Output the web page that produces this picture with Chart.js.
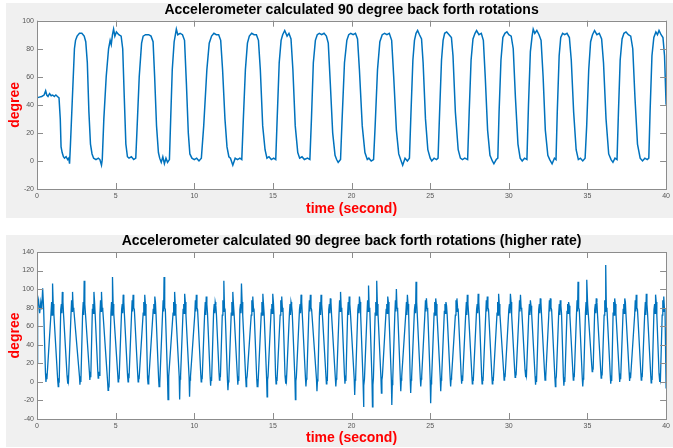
<!DOCTYPE html>
<html>
<head>
<meta charset="utf-8">
<script src="https://cdn.jsdelivr.net/npm/chart.js@4"></script>
<style>
  body { margin: 0; background: #fff; }
  #wrap { position: relative; width: 673px; height: 448px; overflow: hidden; }
  canvas { position: absolute; left: 0; }
</style>
</head>
<body>
<div id="wrap">
  <canvas id="upper" width="673" height="218" style="top:0"></canvas>
  <canvas id="lower" width="673" height="220" style="top:228px"></canvas>
</div>
<script>
const upperTitle = "Accelerometer calculated 90 degree back forth rotations";
const lowerTitle = "Accelerometer calculated 90 degree back forth rotations (higher rate)";
const xLabel = "time (second)";
const yLabel = "degree";

const timeTicks = [0, 5, 10, 15, 20, 25, 30, 35, 40];
const upperDegreeTicks = [-20, 0, 20, 40, 60, 80, 100];
const lowerDegreeTicks = [-40, -20, 0, 20, 40, 60, 80, 100, 120, 140];

// slow rotations (one line per swing)
const upperTime = [
  0, 0.15, 0.3, 0.45, 0.55, 0.62, 0.7, 0.8, 0.9, 1.0, 1.1, 1.2, 1.3, 1.4,
  1.48, 1.53, 1.6, 1.68, 1.75, 1.85, 1.95, 2.02, 2.07,
  2.12, 2.25, 2.38, 2.45, 2.55, 2.7, 2.85, 3.0, 3.1, 3.2, 3.3, 3.4, 3.5, 3.6, 3.75, 3.9, 4.0, 4.1, 4.15,
  4.25, 4.4, 4.55, 4.65, 4.72, 4.8, 4.87, 4.95, 5.05, 5.2, 5.35, 5.45, 5.55, 5.65, 5.75, 5.85, 6.0, 6.15, 6.28,
  6.35, 6.5, 6.65, 6.75, 6.9, 7.1, 7.25, 7.38, 7.48, 7.6, 7.72, 7.8, 7.9, 8.0, 8.1, 8.2, 8.3, 8.42,
  8.5, 8.6, 8.72, 8.8, 8.86, 8.95, 9.1, 9.25, 9.38, 9.5, 9.62, 9.72, 9.85, 10.0, 10.15, 10.3, 10.45,
  10.6, 10.8, 10.95, 11.1, 11.25, 11.4, 11.55, 11.68, 11.8, 11.95, 12.08, 12.2, 12.3, 12.45, 12.6, 12.75, 12.9, 13.02,
  13.12, 13.25, 13.38, 13.5, 13.65, 13.8, 13.95, 14.08, 14.2, 14.35, 14.5, 14.62, 14.75, 14.9, 15.05, 15.18,
  15.27, 15.4, 15.52, 15.62, 15.75, 15.9, 16.02, 16.15, 16.27, 16.42, 16.58, 16.7, 16.85, 17.0, 17.2, 17.35,
  17.45, 17.57, 17.7, 17.82, 17.95, 18.1, 18.25, 18.4, 18.52, 18.65, 18.8, 18.95, 19.05, 19.15, 19.3,
  19.4, 19.55, 19.7, 19.82, 19.95, 20.1, 20.25, 20.38, 20.5, 20.68, 20.85, 21.0, 21.1, 21.25, 21.4,
  21.5, 21.65, 21.8, 21.95, 22.1, 22.25, 22.4, 22.55, 22.68, 22.85, 23.0, 23.12, 23.25, 23.4, 23.55, 23.68,
  23.78, 23.9, 24.0, 24.1, 24.2, 24.32, 24.45, 24.55, 24.7, 24.85, 25.0, 25.1, 25.25, 25.4, 25.5,
  25.6, 25.72, 25.82, 25.92, 26.05, 26.2, 26.35, 26.45, 26.6, 26.78, 26.92, 27.05, 27.2, 27.38,
  27.48, 27.6, 27.72, 27.85, 27.95, 28.1, 28.25, 28.38, 28.5, 28.65, 28.8, 28.95, 29.05, 29.2, 29.3,
  29.38, 29.5, 29.62, 29.75, 29.88, 30.0, 30.15, 30.28, 30.42, 30.58, 30.72, 30.85, 31.0, 31.15,
  31.25, 31.37, 31.48, 31.55, 31.65, 31.78, 31.92, 32.05, 32.18, 32.32, 32.48, 32.6, 32.75, 32.9, 33.0,
  33.08, 33.2, 33.3, 33.42, 33.55, 33.7, 33.85, 33.97, 34.12, 34.28, 34.42, 34.55, 34.7, 34.85,
  34.95, 35.08, 35.2, 35.32, 35.45, 35.6, 35.75, 35.9, 36.02, 36.18, 36.35, 36.5, 36.62, 36.75, 36.88,
  36.97, 37.08, 37.2, 37.32, 37.45, 37.6, 37.75, 37.88, 38.02, 38.18, 38.35, 38.5, 38.65, 38.8, 38.9,
  38.98, 39.1, 39.22, 39.35, 39.45, 39.55, 39.68, 39.8, 39.9, 40.0
];
const upperDegree = [
  45, 45.5, 46, 47, 50, 47, 46, 48, 46.5, 47, 46, 47, 46, 45,
  30, 10, 6, 3, 2, 3, 1, 2, -2,
  10, 45, 80, 86, 89, 91, 91, 89, 85, 70, 35, 12, 5, 2, 1, 2, 1, -3, 1,
  30, 60, 80, 86, 83, 90, 94, 89, 92, 90, 89, 80, 45, 12, 3, 2, 3, 1, 2,
  20, 60, 84, 89, 90, 90, 89, 85, 60, 25, 6, 2, -1, 3, -2, 2, -1, 1,
  30, 65, 85, 90, 94, 90, 91, 90, 86, 55, 20, 5, 2, 1, 2, 0, 2,
  25, 65, 84, 89, 91, 90, 90, 86, 65, 30, 10, 3, 2, -3, 2, 1, 2, 1,
  30, 65, 84, 89, 91, 90, 90, 86, 65, 25, 8, 2, 3, 1, 2, 1,
  30, 70, 86, 90, 93, 89, 91, 87, 65, 25, 6, 2, 3, 1, 2, 1,
  30, 70, 86, 90, 91, 90, 91, 89, 84, 55, 20, 4, 1, -1, 1,
  30, 70, 86, 90, 91, 90, 91, 87, 65, 25, 6, 1, 2, 0, 1,
  25, 65, 85, 90, 91, 90, 91, 86, 60, 22, 5, 1, -3, 2, 0, 2,
  35, 72, 86, 91, 93, 90, 87, 70, 30, 8, 2, 0, 2, 1, 2,
  35, 72, 86, 91, 92, 90, 88, 75, 35, 8, 2, 1, 2, 1,
  35, 72, 87, 91, 93, 90, 91, 86, 60, 22, 4, 0, -2, 1, 2,
  35, 72, 88, 91, 92, 90, 89, 80, 45, 12, 2, 0, 2, 1,
  40, 78, 89, 94, 91, 93, 90, 86, 60, 22, 4, 1, -2, 2, 1,
  35, 75, 88, 91, 90, 91, 88, 72, 35, 8, 1, 2, 0, 2,
  25, 65, 85, 90, 93, 90, 91, 87, 70, 30, 5, 1, -1, 2, 1,
  35, 72, 87, 91, 92, 90, 89, 80, 45, 12, 2, 0, 2, 1, 2,
  35, 75, 88, 92, 90, 93, 90, 88, 75, 40
];

// fast rotations (one line per swing: noisy trough, then noisy top with its spike)
const lowerTime = [
  0, 0.04, 0.1, 0.17, 0.24, 0.3, 0.36, 0.42,
  0.54, 0.57, 0.60, 0.63, 0.89, 0.93, 0.96, 0.99, 1.03, 1.07,
  1.32, 1.35, 1.38, 1.41, 1.51, 1.55, 1.58, 1.61, 1.65, 1.69,
  1.91, 1.94, 1.97, 2.00, 2.16, 2.20, 2.23, 2.26, 2.30, 2.34,
  2.70, 2.73, 2.76, 2.79, 2.90, 2.94, 2.97, 3.00, 3.04, 3.08,
  3.33, 3.36, 3.39, 3.42, 3.52, 3.56, 3.59, 3.62, 3.66, 3.70,
  3.86, 3.89, 3.92, 3.95, 4.00, 4.04, 4.07, 4.10, 4.14, 4.18,
  4.49, 4.52, 4.55, 4.58, 4.70, 4.74, 4.77, 4.80, 4.84, 4.88,
  5.13, 5.16, 5.19, 5.22, 5.38, 5.42, 5.45, 5.48, 5.52, 5.56,
  5.76, 5.79, 5.82, 5.85, 6.01, 6.05, 6.08, 6.11, 6.15, 6.19,
  6.40, 6.43, 6.46, 6.49, 6.75, 6.79, 6.82, 6.85, 6.89, 6.93,
  7.03, 7.06, 7.09, 7.12, 7.39, 7.43, 7.46, 7.49, 7.53, 7.57,
  7.73, 7.76, 7.79, 7.82, 7.98, 8.02, 8.05, 8.08, 8.12, 8.16,
  8.30, 8.33, 8.36, 8.39, 8.65, 8.69, 8.72, 8.75, 8.79, 8.83,
  9.04, 9.07, 9.10, 9.13, 9.29, 9.33, 9.36, 9.39, 9.43, 9.47,
  9.67, 9.70, 9.73, 9.76, 10.03, 10.07, 10.10, 10.13, 10.17, 10.21,
  10.41, 10.44, 10.47, 10.50, 10.66, 10.70, 10.73, 10.76, 10.80, 10.84,
  11.01, 11.04, 11.07, 11.10, 11.23, 11.27, 11.30, 11.33, 11.37, 11.41,
  11.57, 11.60, 11.63, 11.66, 11.78, 11.82, 11.85, 11.88, 11.92, 11.96,
  12.11, 12.14, 12.17, 12.20, 12.35, 12.39, 12.42, 12.45, 12.49, 12.53,
  12.74, 12.77, 12.80, 12.83, 12.90, 12.94, 12.97, 13.00, 13.04, 13.08,
  13.27, 13.30, 13.33, 13.36, 13.62, 13.66, 13.69, 13.72, 13.76, 13.80,
  13.97, 14.00, 14.03, 14.06, 14.26, 14.30, 14.33, 14.36, 14.40, 14.44,
  14.60, 14.63, 14.66, 14.69, 14.89, 14.93, 14.96, 14.99, 15.03, 15.07,
  15.17, 15.20, 15.23, 15.26, 15.46, 15.50, 15.53, 15.56, 15.60, 15.64,
  15.77, 15.80, 15.83, 15.86, 16.05, 16.09, 16.12, 16.15, 16.19, 16.23,
  16.40, 16.43, 16.46, 16.49, 16.69, 16.73, 16.76, 16.79, 16.83, 16.87,
  17.07, 17.10, 17.13, 17.16, 17.28, 17.32, 17.35, 17.38, 17.42, 17.46,
  17.77, 17.80, 17.83, 17.86, 17.96, 18.00, 18.03, 18.06, 18.10, 18.14,
  18.37, 18.40, 18.43, 18.46, 18.55, 18.59, 18.62, 18.65, 18.69, 18.73,
  18.97, 19.00, 19.03, 19.06, 19.20, 19.24, 19.27, 19.30, 19.34, 19.38,
  19.55, 19.58, 19.61, 19.64, 19.75, 19.79, 19.82, 19.85, 19.89, 19.93,
  20.17, 20.20, 20.23, 20.26, 20.40, 20.44, 20.47, 20.50, 20.54, 20.58,
  20.73, 20.76, 20.79, 20.82, 20.98, 21.02, 21.05, 21.08, 21.12, 21.16,
  21.30, 21.33, 21.36, 21.39, 21.50, 21.54, 21.57, 21.60, 21.64, 21.68,
  21.87, 21.90, 21.93, 21.96, 22.20, 22.24, 22.27, 22.30, 22.34, 22.38,
  22.53, 22.56, 22.59, 22.62, 22.75, 22.79, 22.82, 22.85, 22.89, 22.93,
  23.10, 23.13, 23.16, 23.19, 23.45, 23.49, 23.52, 23.55, 23.59, 23.63,
  23.73, 23.76, 23.79, 23.82, 24.00, 24.04, 24.07, 24.10, 24.14, 24.18,
  24.37, 24.40, 24.43, 24.46, 24.66, 24.70, 24.73, 24.76, 24.80, 24.84,
  25.00, 25.03, 25.06, 25.09, 25.25, 25.29, 25.32, 25.35, 25.39, 25.43,
  25.64, 25.67, 25.70, 25.73, 25.90, 25.94, 25.97, 26.00, 26.04, 26.08,
  26.27, 26.30, 26.33, 26.36, 26.60, 26.64, 26.67, 26.70, 26.74, 26.78,
  26.97, 27.00, 27.03, 27.06, 27.26, 27.30, 27.33, 27.36, 27.40, 27.44,
  27.65, 27.68, 27.71, 27.74, 27.95, 27.99, 28.02, 28.05, 28.09, 28.13,
  28.27, 28.30, 28.33, 28.36, 28.53, 28.57, 28.60, 28.63, 28.67, 28.71,
  28.92, 28.95, 28.98, 29.01, 29.25, 29.29, 29.32, 29.35, 29.39, 29.43,
  29.67, 29.70, 29.73, 29.76, 30.00, 30.04, 30.07, 30.10, 30.14, 30.18,
  30.37, 30.40, 30.43, 30.46, 30.64, 30.68, 30.71, 30.74, 30.78, 30.82,
  31.03, 31.06, 31.09, 31.12, 31.27, 31.31, 31.34, 31.37, 31.41, 31.45,
  31.67, 31.70, 31.73, 31.76, 31.90, 31.94, 31.97, 32.00, 32.04, 32.08,
  32.27, 32.30, 32.33, 32.36, 32.54, 32.58, 32.61, 32.64, 32.68, 32.72,
  32.93, 32.96, 32.99, 33.02, 33.17, 33.21, 33.24, 33.27, 33.31, 33.35,
  33.47, 33.50, 33.53, 33.56, 33.70, 33.74, 33.77, 33.80, 33.84, 33.88,
  34.07, 34.10, 34.13, 34.16, 34.30, 34.34, 34.37, 34.40, 34.44, 34.48,
  34.67, 34.70, 34.73, 34.76, 34.87, 34.91, 34.94, 34.97, 35.01, 35.05,
  35.27, 35.30, 35.33, 35.36, 35.46, 35.50, 35.53, 35.56, 35.60, 35.64,
  35.84, 35.87, 35.90, 35.93, 36.06, 36.10, 36.13, 36.16, 36.20, 36.24,
  36.45, 36.48, 36.51, 36.54, 36.63, 36.67, 36.70, 36.73, 36.77, 36.81,
  37.02, 37.05, 37.08, 37.11, 37.27, 37.31, 37.34, 37.37, 37.41, 37.45,
  37.65, 37.68, 37.71, 37.74, 38.00, 38.04, 38.07, 38.10, 38.14, 38.18,
  38.39, 38.42, 38.45, 38.48, 38.64, 38.68, 38.71, 38.74, 38.78, 38.82,
  39.02, 39.05, 39.08, 39.11, 39.23, 39.27, 39.30, 39.33, 39.37, 39.41,
  39.55, 39.58, 39.61, 39.64, 39.75, 39.79, 39.82, 39.85, 39.89, 39.93,
  40.0
];
const lowerDegree = [
  20, 82, 88, 74, 86, 78, 101, 80,
  9, 0, 7, 3, 74, 86, 72, 106, 84, 74,
  1, -5, 4, -1, 78, 84, 74, 97, 86, 72,
  7, -2, 5, 1, 72, 88, 76, 97, 80, 78,
  6, -3, 4, 0, 74, 86, 72, 109, 84, 74,
  11, 2, 9, 5, 78, 84, 74, 97, 86, 72,
  13, 4, 11, 7, 72, 88, 76, 97, 80, 78,
  0, -9, -2, -6, 74, 86, 72, 113, 84, 74,
  9, 0, 7, 3, 78, 84, 74, 94, 86, 72,
  6, 0, 9, 4, 72, 88, 76, 94, 80, 78,
  9, 0, 7, 3, 74, 86, 72, 94, 84, 74,
  4, -2, 7, 2, 78, 84, 74, 92, 86, 72,
  4, -5, 2, -2, 72, 88, 76, 113, 80, 78,
  4, -19, 2, 6, 74, 86, 72, 97, 84, 74,
  6, -19, 3, 7, 78, 84, 74, 95, 86, 72,
  5, -16, 2, 6, 72, 88, 76, 94, 80, 78,
  9, 0, 7, 3, 74, 86, 72, 92, 84, 74,
  5, -4, 5, 1, 76, 84, 74, 86, 82, 72,
  11, 2, 9, 5, 72, 88, 76, 109, 80, 78,
  2, -9, 0, 4, 74, 86, 72, 97, 84, 74,
  6, -3, 5, 1, 78, 84, 74, 106, 86, 72,
  4, -5, 3, 6, 72, 88, 76, 92, 80, 78,
  4, -5, 3, 0, 74, 86, 72, 95, 84, 74,
  3, -16, 2, 6, 78, 84, 74, 95, 86, 72,
  7, -2, 5, 1, 72, 88, 76, 92, 80, 78,
  7, -2, 5, 1, 74, 84, 72, 86, 82, 74,
  3, -19, 1, 5, 78, 84, 74, 94, 86, 72,
  4, -5, 3, 6, 72, 88, 76, 94, 80, 78,
  3, -10, 1, 5, 74, 86, 72, 94, 84, 74,
  7, -2, 5, 1, 78, 84, 74, 90, 86, 72,
  4, -5, 3, 6, 72, 88, 76, 97, 80, 78,
  7, -2, 5, 1, 74, 86, 72, 92, 84, 74,
  3, -14, 2, 5, 78, 84, 74, 92, 86, 72,
  2, -27, -4, 3, 72, 88, 76, 104, 80, 78,
  2, -27, -3, 4, 74, 86, 72, 109, 84, 74,
  4, -12, 2, 6, 78, 84, 74, 92, 86, 72,
  2, -25, -3, 3, 72, 88, 76, 100, 80, 78,
  4, -10, 2, 6, 74, 86, 72, 94, 84, 74,
  3, -12, 2, 5, 78, 84, 74, 108, 86, 72,
  4, -5, 3, 6, 72, 88, 76, 90, 80, 78,
  2, -23, -2, 3, 74, 86, 72, 90, 84, 74,
  4, -10, 2, 6, 76, 84, 74, 86, 82, 72,
  4, -5, 3, 6, 72, 88, 76, 90, 80, 78,
  7, -2, 5, 1, 74, 86, 72, 94, 84, 74,
  7, -2, 5, 1, 78, 84, 74, 95, 86, 72,
  7, -2, 5, 1, 72, 88, 76, 92, 80, 78,
  7, -2, 5, 1, 74, 86, 72, 95, 84, 74,
  11, 2, 9, 5, 78, 84, 74, 95, 86, 72,
  13, 5, 11, 7, 72, 88, 76, 94, 80, 78,
  13, 5, 11, 7, 74, 84, 72, 88, 82, 74,
  6, -3, 4, 0, 78, 84, 74, 90, 86, 72,
  11, 2, 9, 5, 72, 88, 76, 90, 80, 78,
  4, -5, 3, 6, 74, 84, 72, 88, 82, 74,
  5, -4, 4, 0, 76, 84, 74, 86, 82, 72,
  11, 2, 9, 5, 72, 88, 76, 108, 80, 78,
  4, -5, 3, 6, 74, 86, 72, 110, 84, 74,
  18, 11, 16, 13, 78, 84, 74, 90, 86, 72,
  13, 4, 11, 7, 72, 88, 76, 126, 80, 78,
  7, -2, 5, 1, 74, 86, 72, 90, 84, 74,
  9, 0, 7, 3, 78, 84, 74, 90, 86, 72,
  10, 1, 8, 4, 72, 88, 76, 94, 80, 78,
  11, 2, 9, 5, 74, 86, 72, 95, 84, 74,
  8, -1, 6, 2, 78, 84, 74, 94, 86, 72,
  9, 0, 7, 3, 72, 88, 76, 92, 80, 78,
  -7
];

Chart.defaults.font.family = "'Liberation Sans', Arial, Helvetica, sans-serif";

function pontos(tempos, graus) {
  return tempos.map((t, i) => ({ x: t, y: graus[i] }));
}

function desenhar(id, tempos, graus, grauTicks, titulo, cfg) {
  const moldura = {
    id: "moldura",
    beforeDraw(chart) {
      const c = chart.ctx, a = chart.chartArea;
      c.save();
      c.fillStyle = "#f0f0f0";
      c.fillRect(6, cfg.panelTop, chart.width - 6, cfg.panelBottom - cfg.panelTop);
      c.fillStyle = "#ffffff";
      c.fillRect(a.left, a.top, a.right - a.left, a.bottom - a.top);
      c.restore();
    },
    afterDatasetsDraw(chart) {
      const c = chart.ctx, a = chart.chartArea;
      const sx = chart.scales.x, sy = chart.scales.y;
      c.save();
      c.strokeStyle = "#8c8c8c";
      c.lineWidth = 1;
      c.beginPath();
      sx.ticks.forEach(t => {
        const px = Math.round(sx.getPixelForValue(t.value)) + 0.5;
        c.moveTo(px, a.bottom); c.lineTo(px, a.bottom - 6);
        c.moveTo(px, a.top); c.lineTo(px, a.top + 6);
      });
      sy.ticks.forEach(t => {
        const py = Math.round(sy.getPixelForValue(t.value)) + 0.5;
        c.moveTo(a.left, py); c.lineTo(a.left + 6, py);
        c.moveTo(a.right, py); c.lineTo(a.right - 6, py);
      });
      c.stroke();
      c.strokeRect(Math.round(a.left) + 0.5, Math.round(a.top) + 0.5,
        Math.round(a.right - a.left), Math.round(a.bottom - a.top));
      c.fillStyle = "#000000";
      c.font = "bold 14px 'Liberation Sans', Arial, sans-serif";
      c.textAlign = "center";
      c.textBaseline = "middle";
      c.fillText(titulo, (a.left + a.right) / 2, cfg.titleY);
      c.restore();
    }
  };

  new Chart(document.getElementById(id), {
    type: "line",
    data: {
      datasets: [{
        data: pontos(tempos, graus),
        borderColor: "#0072bd",
        borderWidth: cfg.lineWidth,
        pointRadius: 0,
        tension: 0,
        fill: false
      }]
    },
    options: {
      responsive: false,
      animation: false,
      devicePixelRatio: 1,
      layout: { padding: { left: 6, right: 5, top: cfg.areaTop, bottom: 0 } },
      plugins: { legend: { display: false }, title: { display: false }, tooltip: { enabled: false } },
      scales: {
        x: {
          type: "linear",
          min: 0,
          max: 40,
          afterBuildTicks: s => { s.ticks = timeTicks.map(v => ({ value: v })); },
          afterFit: s => { s.height = cfg.xHeight; },
          grid: { display: false, drawTicks: false },
          border: { display: false },
          ticks: { color: "#555555", font: { size: 7 }, padding: 3, maxRotation: 0, autoSkip: false },
          title: {
            display: true,
            text: xLabel,
            color: "#ff0000",
            font: { size: 14, weight: "bold" },
            padding: { top: 0, bottom: cfg.xTitlePad }
          }
        },
        y: {
          min: grauTicks[0],
          max: grauTicks[grauTicks.length - 1],
          afterBuildTicks: s => { s.ticks = grauTicks.map(v => ({ value: v })); },
          afterFit: s => { s.width = 31; },
          grid: { display: false, drawTicks: false },
          border: { display: false },
          ticks: { color: "#555555", font: { size: 7 }, padding: 3, autoSkip: false },
          title: {
            display: true,
            text: yLabel,
            color: "#ff0000",
            font: { size: 14, weight: "bold" },
            padding: { top: 0.6, bottom: 0 }
          }
        }
      }
    },
    plugins: [moldura]
  });
}

desenhar("upper", upperTime, upperDegree, upperDegreeTicks, upperTitle,
  { panelTop: 3, panelBottom: 218, areaTop: 20.7, xHeight: 29, xTitlePad: 0, titleY: 10, lineWidth: 1.5 });
desenhar("lower", lowerTime, lowerDegree, lowerDegreeTicks, lowerTitle,
  { panelTop: 7, panelBottom: 219, areaTop: 24, xHeight: 29, xTitlePad: 1.6, titleY: 13, lineWidth: 1.3 });
</script>
</body>
</html>
